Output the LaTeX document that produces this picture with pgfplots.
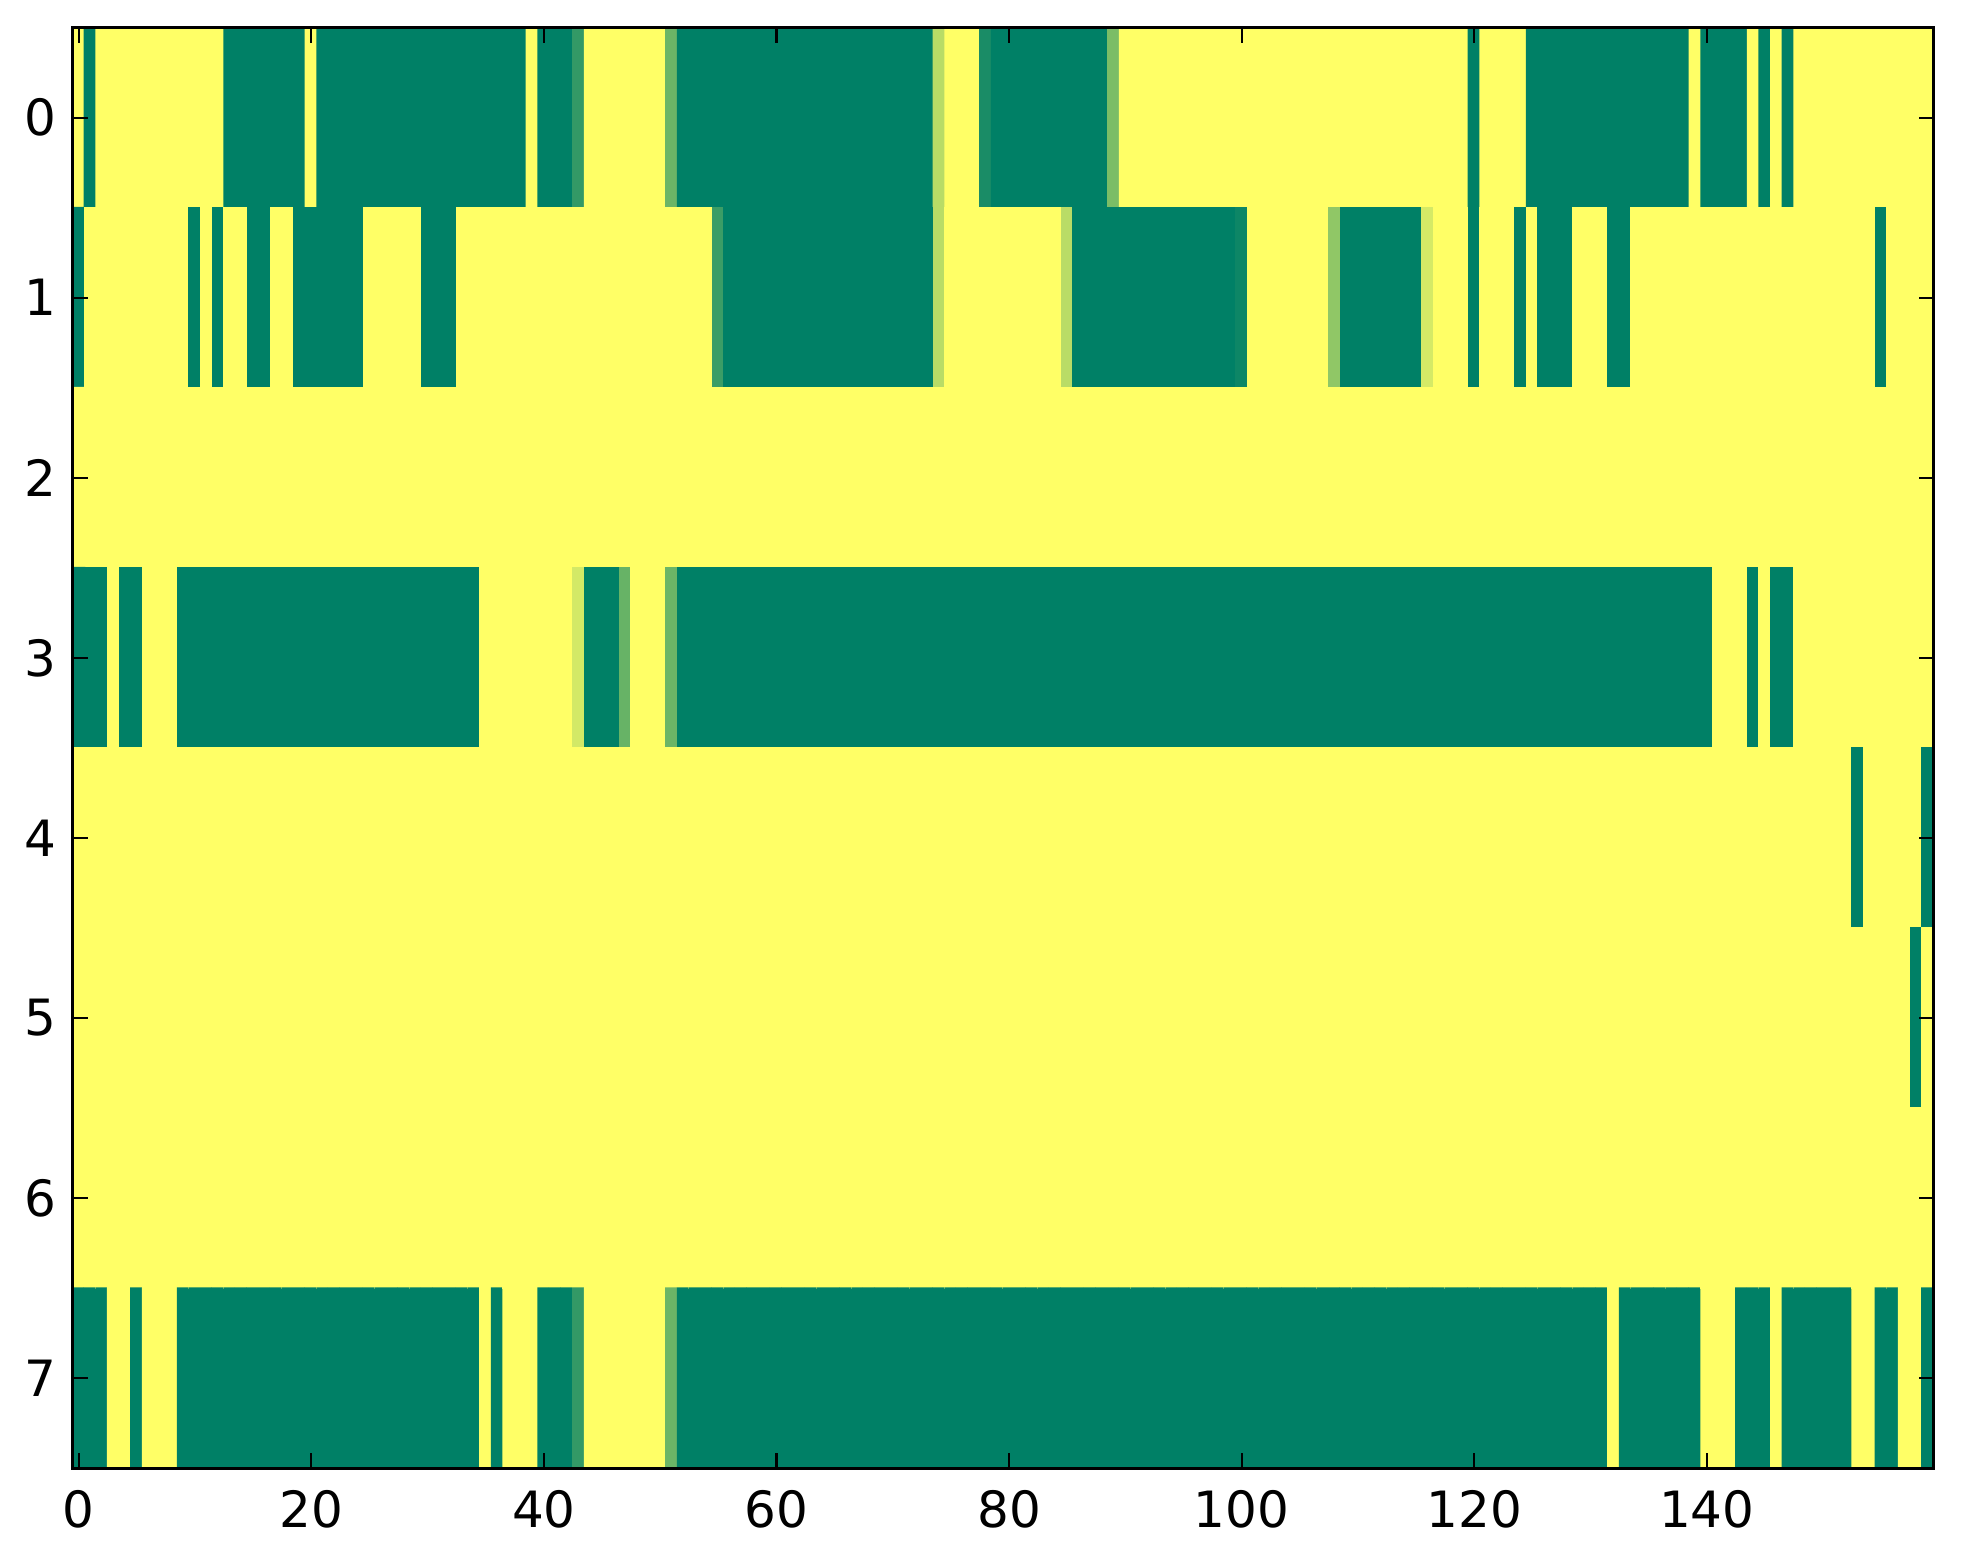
\documentclass[border=0pt]{standalone}
\usepackage{pgfplots}
\usepackage{pgfplotstable}
\pgfplotsset{compat=1.18}
\usepackage{fontspec}
\setmainfont{DejaVu Sans}
\pgfplotstableread[row sep=\\]{
v\\
1\\0\\1\\1\\1\\1\\1\\1\\1\\1\\ % r0 c0
1\\1\\1\\0\\0\\0\\0\\0\\0\\0\\ % r0 c10
1\\0\\0\\0\\0\\0\\0\\0\\0\\0\\ % r0 c20
0\\0\\0\\0\\0\\0\\0\\0\\0\\1\\ % r0 c30
0\\0\\0\\0.2\\1\\1\\1\\1\\1\\1\\ % r0 c40
1\\0.42\\0\\0\\0\\0\\0\\0\\0\\0\\ % r0 c50
0\\0\\0\\0\\0\\0\\0\\0\\0\\0\\ % r0 c60
0\\0\\0\\0\\0.72\\1\\1\\1\\0.1\\0\\ % r0 c70
0\\0\\0\\0\\0\\0\\0\\0\\0\\0.48\\ % r0 c80
1\\1\\1\\1\\1\\1\\1\\1\\1\\1\\ % r0 c90
1\\1\\1\\1\\1\\1\\1\\1\\1\\1\\ % r0 c100
1\\1\\1\\1\\1\\1\\1\\1\\1\\1\\ % r0 c110
0\\1\\1\\1\\1\\0\\0\\0\\0\\0\\ % r0 c120
0\\0\\0\\0\\0\\0\\0\\0\\0\\1\\ % r0 c130
0\\0\\0\\0\\1\\0\\1\\0\\1\\1\\ % r0 c140
1\\1\\1\\1\\1\\1\\1\\1\\1\\1\\ % r0 c150
0\\1\\1\\1\\1\\1\\1\\1\\1\\1\\ % r1 c0
0\\1\\0\\1\\1\\0\\0\\1\\1\\0\\ % r1 c10
0\\0\\0\\0\\0\\1\\1\\1\\1\\1\\ % r1 c20
0\\0\\0\\1\\1\\1\\1\\1\\1\\1\\ % r1 c30
1\\1\\1\\1\\1\\1\\1\\1\\1\\1\\ % r1 c40
1\\1\\1\\1\\1\\0.23\\0\\0\\0\\0\\ % r1 c50
0\\0\\0\\0\\0\\0\\0\\0\\0\\0\\ % r1 c60
0\\0\\0\\0\\0.72\\1\\1\\1\\1\\1\\ % r1 c70
1\\1\\1\\1\\1\\0.72\\0\\0\\0\\0\\ % r1 c80
0\\0\\0\\0\\0\\0\\0\\0\\0\\0\\ % r1 c90
0.05\\1\\1\\1\\1\\1\\1\\1\\0.56\\0\\ % r1 c100
0\\0\\0\\0\\0\\0\\0.83\\1\\1\\1\\ % r1 c110
0\\1\\1\\1\\0\\1\\0\\0\\0\\1\\ % r1 c120
1\\1\\0\\0\\1\\1\\1\\1\\1\\1\\ % r1 c130
1\\1\\1\\1\\1\\1\\1\\1\\1\\1\\ % r1 c140
1\\1\\1\\1\\1\\0\\1\\1\\1\\1\\ % r1 c150
1\\1\\1\\1\\1\\1\\1\\1\\1\\1\\ % r2 c0
1\\1\\1\\1\\1\\1\\1\\1\\1\\1\\ % r2 c10
1\\1\\1\\1\\1\\1\\1\\1\\1\\1\\ % r2 c20
1\\1\\1\\1\\1\\1\\1\\1\\1\\1\\ % r2 c30
1\\1\\1\\1\\1\\1\\1\\1\\1\\1\\ % r2 c40
1\\1\\1\\1\\1\\1\\1\\1\\1\\1\\ % r2 c50
1\\1\\1\\1\\1\\1\\1\\1\\1\\1\\ % r2 c60
1\\1\\1\\1\\1\\1\\1\\1\\1\\1\\ % r2 c70
1\\1\\1\\1\\1\\1\\1\\1\\1\\1\\ % r2 c80
1\\1\\1\\1\\1\\1\\1\\1\\1\\1\\ % r2 c90
1\\1\\1\\1\\1\\1\\1\\1\\1\\1\\ % r2 c100
1\\1\\1\\1\\1\\1\\1\\1\\1\\1\\ % r2 c110
1\\1\\1\\1\\1\\1\\1\\1\\1\\1\\ % r2 c120
1\\1\\1\\1\\1\\1\\1\\1\\1\\1\\ % r2 c130
1\\1\\1\\1\\1\\1\\1\\1\\1\\1\\ % r2 c140
1\\1\\1\\1\\1\\1\\1\\1\\1\\1\\ % r2 c150
0\\0\\0\\1\\0\\0\\1\\1\\1\\0\\ % r3 c0
0\\0\\0\\0\\0\\0\\0\\0\\0\\0\\ % r3 c10
0\\0\\0\\0\\0\\0\\0\\0\\0\\0\\ % r3 c20
0\\0\\0\\0\\0\\1\\1\\1\\1\\1\\ % r3 c30
1\\1\\1\\0.82\\0\\0\\0\\0.4\\1\\1\\ % r3 c40
1\\0.42\\0\\0\\0\\0\\0\\0\\0\\0\\ % r3 c50
0\\0\\0\\0\\0\\0\\0\\0\\0\\0\\ % r3 c60
0\\0\\0\\0\\0\\0\\0\\0\\0\\0\\ % r3 c70
0\\0\\0\\0\\0\\0\\0\\0\\0\\0\\ % r3 c80
0\\0\\0\\0\\0\\0\\0\\0\\0\\0\\ % r3 c90
0\\0\\0\\0\\0\\0\\0\\0\\0\\0\\ % r3 c100
0\\0\\0\\0\\0\\0\\0\\0\\0\\0\\ % r3 c110
0\\0\\0\\0\\0\\0\\0\\0\\0\\0\\ % r3 c120
0\\0\\0\\0\\0\\0\\0\\0\\0\\0\\ % r3 c130
0\\1\\1\\1\\0\\1\\0\\0\\1\\1\\ % r3 c140
1\\1\\1\\1\\1\\1\\1\\1\\1\\1\\ % r3 c150
1\\1\\1\\1\\1\\1\\1\\1\\1\\1\\ % r4 c0
1\\1\\1\\1\\1\\1\\1\\1\\1\\1\\ % r4 c10
1\\1\\1\\1\\1\\1\\1\\1\\1\\1\\ % r4 c20
1\\1\\1\\1\\1\\1\\1\\1\\1\\1\\ % r4 c30
1\\1\\1\\1\\1\\1\\1\\1\\1\\1\\ % r4 c40
1\\1\\1\\1\\1\\1\\1\\1\\1\\1\\ % r4 c50
1\\1\\1\\1\\1\\1\\1\\1\\1\\1\\ % r4 c60
1\\1\\1\\1\\1\\1\\1\\1\\1\\1\\ % r4 c70
1\\1\\1\\1\\1\\1\\1\\1\\1\\1\\ % r4 c80
1\\1\\1\\1\\1\\1\\1\\1\\1\\1\\ % r4 c90
1\\1\\1\\1\\1\\1\\1\\1\\1\\1\\ % r4 c100
1\\1\\1\\1\\1\\1\\1\\1\\1\\1\\ % r4 c110
1\\1\\1\\1\\1\\1\\1\\1\\1\\1\\ % r4 c120
1\\1\\1\\1\\1\\1\\1\\1\\1\\1\\ % r4 c130
1\\1\\1\\1\\1\\1\\1\\1\\1\\1\\ % r4 c140
1\\1\\1\\0\\1\\1\\1\\1\\1\\0\\ % r4 c150
1\\1\\1\\1\\1\\1\\1\\1\\1\\1\\ % r5 c0
1\\1\\1\\1\\1\\1\\1\\1\\1\\1\\ % r5 c10
1\\1\\1\\1\\1\\1\\1\\1\\1\\1\\ % r5 c20
1\\1\\1\\1\\1\\1\\1\\1\\1\\1\\ % r5 c30
1\\1\\1\\1\\1\\1\\1\\1\\1\\1\\ % r5 c40
1\\1\\1\\1\\1\\1\\1\\1\\1\\1\\ % r5 c50
1\\1\\1\\1\\1\\1\\1\\1\\1\\1\\ % r5 c60
1\\1\\1\\1\\1\\1\\1\\1\\1\\1\\ % r5 c70
1\\1\\1\\1\\1\\1\\1\\1\\1\\1\\ % r5 c80
1\\1\\1\\1\\1\\1\\1\\1\\1\\1\\ % r5 c90
1\\1\\1\\1\\1\\1\\1\\1\\1\\1\\ % r5 c100
1\\1\\1\\1\\1\\1\\1\\1\\1\\1\\ % r5 c110
1\\1\\1\\1\\1\\1\\1\\1\\1\\1\\ % r5 c120
1\\1\\1\\1\\1\\1\\1\\1\\1\\1\\ % r5 c130
1\\1\\1\\1\\1\\1\\1\\1\\1\\1\\ % r5 c140
1\\1\\1\\1\\1\\1\\1\\1\\0\\1\\ % r5 c150
1\\1\\1\\1\\1\\1\\1\\1\\1\\1\\ % r6 c0
1\\1\\1\\1\\1\\1\\1\\1\\1\\1\\ % r6 c10
1\\1\\1\\1\\1\\1\\1\\1\\1\\1\\ % r6 c20
1\\1\\1\\1\\1\\1\\1\\1\\1\\1\\ % r6 c30
1\\1\\1\\1\\1\\1\\1\\1\\1\\1\\ % r6 c40
1\\1\\1\\1\\1\\1\\1\\1\\1\\1\\ % r6 c50
1\\1\\1\\1\\1\\1\\1\\1\\1\\1\\ % r6 c60
1\\1\\1\\1\\1\\1\\1\\1\\1\\1\\ % r6 c70
1\\1\\1\\1\\1\\1\\1\\1\\1\\1\\ % r6 c80
1\\1\\1\\1\\1\\1\\1\\1\\1\\1\\ % r6 c90
1\\1\\1\\1\\1\\1\\1\\1\\1\\1\\ % r6 c100
1\\1\\1\\1\\1\\1\\1\\1\\1\\1\\ % r6 c110
1\\1\\1\\1\\1\\1\\1\\1\\1\\1\\ % r6 c120
1\\1\\1\\1\\1\\1\\1\\1\\1\\1\\ % r6 c130
1\\1\\1\\1\\1\\1\\1\\1\\1\\1\\ % r6 c140
1\\1\\1\\1\\1\\1\\1\\1\\1\\1\\ % r6 c150
0\\0\\0\\1\\1\\0\\1\\1\\1\\0\\ % r7 c0
0\\0\\0\\0\\0\\0\\0\\0\\0\\0\\ % r7 c10
0\\0\\0\\0\\0\\0\\0\\0\\0\\0\\ % r7 c20
0\\0\\0\\0\\0\\1\\0\\1\\1\\1\\ % r7 c30
0\\0\\0\\0.2\\1\\1\\1\\1\\1\\1\\ % r7 c40
1\\0.42\\0\\0\\0\\0\\0\\0\\0\\0\\ % r7 c50
0\\0\\0\\0\\0\\0\\0\\0\\0\\0\\ % r7 c60
0\\0\\0\\0\\0\\0\\0\\0\\0\\0\\ % r7 c70
0\\0\\0\\0\\0\\0\\0\\0\\0\\0\\ % r7 c80
0\\0\\0\\0\\0\\0\\0\\0\\0\\0\\ % r7 c90
0\\0\\0\\0\\0\\0\\0\\0\\0\\0\\ % r7 c100
0\\0\\0\\0\\0\\0\\0\\0\\0\\0\\ % r7 c110
0\\0\\0\\0\\0\\0\\0\\0\\0\\0\\ % r7 c120
0\\0\\1\\0\\0\\0\\0\\0\\0\\0\\ % r7 c130
1\\1\\1\\0\\0\\0\\1\\0\\0\\0\\ % r7 c140
0\\0\\0\\1\\1\\0\\0\\1\\1\\0\\ % r7 c150
}\heat
\begin{document}
\begin{tikzpicture}
\begin{axis}[
  name=ax,
  scale only axis,
  width=446.6pt, height=345.8pt,
  xmin=-0.5, xmax=159.5, ymin=-0.5, ymax=7.5,
  y dir=reverse,
  enlargelimits=false,
  axis on top,
  colormap={summer}{rgb=(0,0.5,0.4) rgb=(1,1,0.4)},
  point meta min=0, point meta max=1,
  xtick={0,20,...,140},
  ytick={0,1,...,7},
  tick align=inside,
  xtick pos=both, ytick pos=both,
  xticklabel pos=bottom, yticklabel pos=left,
  major tick length=3.6pt,
  every tick/.style={black, line width=0.5pt},
  axis line style={black, line width=0.75pt},
  /pgf/number format/assume math mode=true,
  tick label style={font=\fontsize{12}{14}\selectfont, inner sep=0pt},
  xticklabel style={yshift=-5pt},
  yticklabel style={xshift=-3.8pt},
]
\addplot[matrix plot, mesh/cols=160, mesh/rows=8, point meta=explicit]
  table[x index=0, y index=0, meta index=0,
        x expr={mod(\coordindex,160)}, y expr={floor(\coordindex/160)}] {\heat};
\end{axis}
\pgfresetboundingbox
\path[use as bounding box] ([xshift=-17.5pt,yshift=-22.8pt]ax.south west) rectangle ([xshift=7.04pt,yshift=6.6pt]ax.north east);
\end{tikzpicture}
\end{document}
